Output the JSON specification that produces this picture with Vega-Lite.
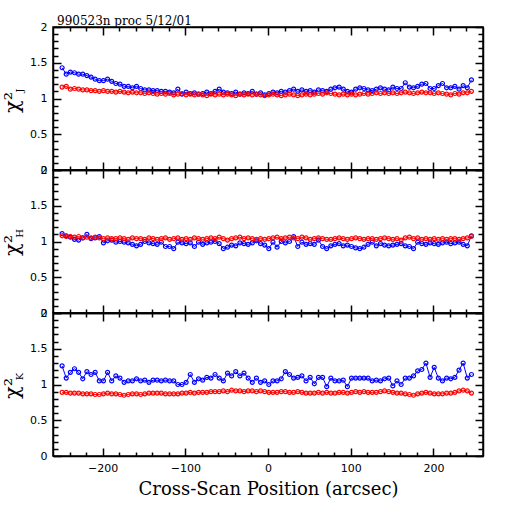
{
  "$schema": "https://vega.github.io/schema/vega-lite/v6.json",
  "datasets": {
    "Jb": [
      {"x":-249,"y":1.43},{"x":-244,"y":1.34},{"x":-239,"y":1.37},{"x":-234,"y":1.36},{"x":-229,"y":1.34},{"x":-224,"y":1.34},{"x":-219,"y":1.32},{"x":-214,"y":1.30},{"x":-209,"y":1.27},{"x":-204,"y":1.25},
      {"x":-199,"y":1.25},{"x":-194,"y":1.27},{"x":-189,"y":1.24},{"x":-184,"y":1.21},{"x":-179,"y":1.20},{"x":-174,"y":1.17},{"x":-169,"y":1.17},{"x":-164,"y":1.15},{"x":-159,"y":1.17},{"x":-154,"y":1.14},
      {"x":-149,"y":1.12},{"x":-144,"y":1.12},{"x":-139,"y":1.11},{"x":-134,"y":1.11},{"x":-129,"y":1.10},{"x":-124,"y":1.10},{"x":-119,"y":1.09},{"x":-114,"y":1.08},{"x":-109,"y":1.13},{"x":-104,"y":1.06},
      {"x":-99,"y":1.09},{"x":-94,"y":1.07},{"x":-89,"y":1.08},{"x":-84,"y":1.06},{"x":-79,"y":1.07},{"x":-74,"y":1.09},{"x":-69,"y":1.07},{"x":-64,"y":1.10},{"x":-59,"y":1.13},{"x":-54,"y":1.09},
      {"x":-49,"y":1.08},{"x":-44,"y":1.07},{"x":-39,"y":1.09},{"x":-34,"y":1.06},{"x":-29,"y":1.08},{"x":-24,"y":1.07},{"x":-19,"y":1.10},{"x":-14,"y":1.06},{"x":-9,"y":1.08},{"x":-4,"y":1.05},
      {"x":1,"y":1.07},{"x":6,"y":1.09},{"x":11,"y":1.08},{"x":16,"y":1.10},{"x":21,"y":1.09},{"x":26,"y":1.11},{"x":31,"y":1.13},{"x":36,"y":1.10},{"x":41,"y":1.12},{"x":46,"y":1.10},
      {"x":51,"y":1.11},{"x":56,"y":1.09},{"x":61,"y":1.12},{"x":66,"y":1.11},{"x":71,"y":1.10},{"x":76,"y":1.13},{"x":81,"y":1.15},{"x":86,"y":1.16},{"x":91,"y":1.13},{"x":96,"y":1.10},
      {"x":101,"y":1.09},{"x":106,"y":1.13},{"x":111,"y":1.15},{"x":116,"y":1.14},{"x":121,"y":1.12},{"x":126,"y":1.11},{"x":131,"y":1.13},{"x":136,"y":1.15},{"x":141,"y":1.13},{"x":146,"y":1.12},
      {"x":151,"y":1.16},{"x":156,"y":1.14},{"x":161,"y":1.14},{"x":166,"y":1.22},{"x":171,"y":1.16},{"x":176,"y":1.15},{"x":181,"y":1.17},{"x":186,"y":1.20},{"x":191,"y":1.21},{"x":196,"y":1.14},
      {"x":201,"y":1.14},{"x":206,"y":1.18},{"x":211,"y":1.21},{"x":216,"y":1.15},{"x":221,"y":1.15},{"x":226,"y":1.17},{"x":231,"y":1.13},{"x":236,"y":1.18},{"x":241,"y":1.15},{"x":246,"y":1.26}
    ],
    "Jr": [
      {"x":-249,"y":1.16},{"x":-244,"y":1.17},{"x":-239,"y":1.13},{"x":-234,"y":1.14},{"x":-229,"y":1.13},{"x":-224,"y":1.12},{"x":-219,"y":1.12},{"x":-214,"y":1.11},{"x":-209,"y":1.11},{"x":-204,"y":1.10},
      {"x":-199,"y":1.11},{"x":-194,"y":1.10},{"x":-189,"y":1.10},{"x":-184,"y":1.09},{"x":-179,"y":1.10},{"x":-174,"y":1.09},{"x":-169,"y":1.08},{"x":-164,"y":1.09},{"x":-159,"y":1.08},{"x":-154,"y":1.08},
      {"x":-149,"y":1.07},{"x":-144,"y":1.08},{"x":-139,"y":1.07},{"x":-134,"y":1.06},{"x":-129,"y":1.07},{"x":-124,"y":1.06},{"x":-119,"y":1.07},{"x":-114,"y":1.05},{"x":-109,"y":1.06},{"x":-104,"y":1.07},
      {"x":-99,"y":1.05},{"x":-94,"y":1.06},{"x":-89,"y":1.05},{"x":-84,"y":1.06},{"x":-79,"y":1.05},{"x":-74,"y":1.04},{"x":-69,"y":1.06},{"x":-64,"y":1.05},{"x":-59,"y":1.06},{"x":-54,"y":1.05},
      {"x":-49,"y":1.06},{"x":-44,"y":1.05},{"x":-39,"y":1.04},{"x":-34,"y":1.06},{"x":-29,"y":1.05},{"x":-24,"y":1.06},{"x":-19,"y":1.05},{"x":-14,"y":1.06},{"x":-9,"y":1.05},{"x":-4,"y":1.04},
      {"x":1,"y":1.05},{"x":6,"y":1.06},{"x":11,"y":1.05},{"x":16,"y":1.04},{"x":21,"y":1.05},{"x":26,"y":1.06},{"x":31,"y":1.05},{"x":36,"y":1.04},{"x":41,"y":1.05},{"x":46,"y":1.06},
      {"x":51,"y":1.05},{"x":56,"y":1.06},{"x":61,"y":1.07},{"x":66,"y":1.06},{"x":71,"y":1.08},{"x":76,"y":1.07},{"x":81,"y":1.06},{"x":86,"y":1.05},{"x":91,"y":1.06},{"x":96,"y":1.05},
      {"x":101,"y":1.06},{"x":106,"y":1.05},{"x":111,"y":1.06},{"x":116,"y":1.07},{"x":121,"y":1.06},{"x":126,"y":1.07},{"x":131,"y":1.08},{"x":136,"y":1.07},{"x":141,"y":1.08},{"x":146,"y":1.07},
      {"x":151,"y":1.08},{"x":156,"y":1.07},{"x":161,"y":1.08},{"x":166,"y":1.09},{"x":171,"y":1.08},{"x":176,"y":1.07},{"x":181,"y":1.08},{"x":186,"y":1.09},{"x":191,"y":1.08},{"x":196,"y":1.08},
      {"x":201,"y":1.07},{"x":206,"y":1.08},{"x":211,"y":1.07},{"x":216,"y":1.06},{"x":221,"y":1.05},{"x":226,"y":1.07},{"x":231,"y":1.06},{"x":236,"y":1.08},{"x":241,"y":1.08},{"x":246,"y":1.10}
    ],
    "Hb": [
      {"x":-249,"y":1.11},{"x":-244,"y":1.08},{"x":-239,"y":1.06},{"x":-234,"y":1.03},{"x":-229,"y":1.02},{"x":-224,"y":1.05},{"x":-219,"y":1.10},{"x":-214,"y":1.04},{"x":-209,"y":1.05},{"x":-204,"y":1.07},
      {"x":-199,"y":0.98},{"x":-194,"y":1.01},{"x":-189,"y":1.02},{"x":-184,"y":0.99},{"x":-179,"y":1.00},{"x":-174,"y":0.99},{"x":-169,"y":0.98},{"x":-164,"y":0.96},{"x":-159,"y":0.94},{"x":-154,"y":0.96},
      {"x":-149,"y":1.00},{"x":-144,"y":0.98},{"x":-139,"y":0.97},{"x":-134,"y":0.96},{"x":-129,"y":0.99},{"x":-124,"y":0.93},{"x":-119,"y":0.93},{"x":-114,"y":0.90},{"x":-109,"y":0.99},{"x":-104,"y":0.98},
      {"x":-99,"y":0.97},{"x":-94,"y":0.98},{"x":-89,"y":0.93},{"x":-84,"y":0.99},{"x":-79,"y":0.96},{"x":-74,"y":0.98},{"x":-69,"y":0.99},{"x":-64,"y":1.00},{"x":-59,"y":0.97},{"x":-54,"y":0.90},
      {"x":-49,"y":0.92},{"x":-44,"y":0.95},{"x":-39,"y":0.94},{"x":-34,"y":0.98},{"x":-29,"y":0.97},{"x":-24,"y":0.96},{"x":-19,"y":0.98},{"x":-14,"y":1.01},{"x":-9,"y":0.97},{"x":-4,"y":0.95},
      {"x":1,"y":0.90},{"x":6,"y":0.99},{"x":11,"y":0.92},{"x":16,"y":1.00},{"x":21,"y":0.98},{"x":26,"y":1.00},{"x":31,"y":1.07},{"x":36,"y":0.93},{"x":41,"y":0.99},{"x":46,"y":0.96},
      {"x":51,"y":0.97},{"x":56,"y":0.96},{"x":61,"y":1.02},{"x":66,"y":0.93},{"x":71,"y":0.90},{"x":76,"y":0.94},{"x":81,"y":0.96},{"x":86,"y":0.97},{"x":91,"y":0.94},{"x":96,"y":0.95},
      {"x":101,"y":0.93},{"x":106,"y":0.91},{"x":111,"y":0.90},{"x":116,"y":0.92},{"x":121,"y":0.96},{"x":126,"y":0.99},{"x":131,"y":0.94},{"x":136,"y":0.97},{"x":141,"y":0.95},{"x":146,"y":0.94},
      {"x":151,"y":0.95},{"x":156,"y":0.96},{"x":161,"y":0.97},{"x":166,"y":0.94},{"x":171,"y":0.93},{"x":176,"y":0.90},{"x":181,"y":0.99},{"x":186,"y":0.97},{"x":191,"y":0.96},{"x":196,"y":0.98},
      {"x":201,"y":0.97},{"x":206,"y":0.96},{"x":211,"y":0.98},{"x":216,"y":0.99},{"x":221,"y":0.97},{"x":226,"y":0.98},{"x":231,"y":0.99},{"x":236,"y":0.96},{"x":241,"y":0.94},{"x":246,"y":1.08}
    ],
    "Hr": [
      {"x":-249,"y":1.08},{"x":-244,"y":1.07},{"x":-239,"y":1.07},{"x":-234,"y":1.06},{"x":-229,"y":1.07},{"x":-224,"y":1.05},{"x":-219,"y":1.06},{"x":-214,"y":1.05},{"x":-209,"y":1.06},{"x":-204,"y":1.05},
      {"x":-199,"y":1.04},{"x":-194,"y":1.05},{"x":-189,"y":1.04},{"x":-184,"y":1.04},{"x":-179,"y":1.05},{"x":-174,"y":1.04},{"x":-169,"y":1.03},{"x":-164,"y":1.05},{"x":-159,"y":1.04},{"x":-154,"y":1.04},
      {"x":-149,"y":1.03},{"x":-144,"y":1.05},{"x":-139,"y":1.04},{"x":-134,"y":1.03},{"x":-129,"y":1.04},{"x":-124,"y":1.05},{"x":-119,"y":1.03},{"x":-114,"y":1.04},{"x":-109,"y":1.05},{"x":-104,"y":1.03},
      {"x":-99,"y":1.04},{"x":-94,"y":1.03},{"x":-89,"y":1.05},{"x":-84,"y":1.04},{"x":-79,"y":1.03},{"x":-74,"y":1.04},{"x":-69,"y":1.05},{"x":-64,"y":1.04},{"x":-59,"y":1.06},{"x":-54,"y":1.04},
      {"x":-49,"y":1.02},{"x":-44,"y":1.04},{"x":-39,"y":1.05},{"x":-34,"y":1.06},{"x":-29,"y":1.04},{"x":-24,"y":1.05},{"x":-19,"y":1.04},{"x":-14,"y":1.03},{"x":-9,"y":1.04},{"x":-4,"y":1.03},
      {"x":1,"y":1.04},{"x":6,"y":1.05},{"x":11,"y":1.06},{"x":16,"y":1.04},{"x":21,"y":1.05},{"x":26,"y":1.06},{"x":31,"y":1.05},{"x":36,"y":1.04},{"x":41,"y":1.06},{"x":46,"y":1.05},
      {"x":51,"y":1.03},{"x":56,"y":1.04},{"x":61,"y":1.05},{"x":66,"y":1.04},{"x":71,"y":1.03},{"x":76,"y":1.03},{"x":81,"y":1.04},{"x":86,"y":1.05},{"x":91,"y":1.04},{"x":96,"y":1.03},
      {"x":101,"y":1.04},{"x":106,"y":1.05},{"x":111,"y":1.04},{"x":116,"y":1.03},{"x":121,"y":1.04},{"x":126,"y":1.04},{"x":131,"y":1.03},{"x":136,"y":1.04},{"x":141,"y":1.05},{"x":146,"y":1.04},
      {"x":151,"y":1.03},{"x":156,"y":1.04},{"x":161,"y":1.02},{"x":166,"y":1.05},{"x":171,"y":1.06},{"x":176,"y":1.04},{"x":181,"y":1.05},{"x":186,"y":1.03},{"x":191,"y":1.04},{"x":196,"y":1.03},
      {"x":201,"y":1.04},{"x":206,"y":1.03},{"x":211,"y":1.04},{"x":216,"y":1.03},{"x":221,"y":1.04},{"x":226,"y":1.04},{"x":231,"y":1.03},{"x":236,"y":1.04},{"x":241,"y":1.05},{"x":246,"y":1.07}
    ],
    "Kb": [
      {"x":-249,"y":1.26},{"x":-244,"y":1.09},{"x":-239,"y":1.17},{"x":-234,"y":1.22},{"x":-229,"y":1.17},{"x":-224,"y":1.08},{"x":-219,"y":1.18},{"x":-214,"y":1.14},{"x":-209,"y":1.17},{"x":-204,"y":1.05},
      {"x":-199,"y":1.05},{"x":-194,"y":1.17},{"x":-189,"y":1.05},{"x":-184,"y":1.12},{"x":-179,"y":1.09},{"x":-174,"y":1.03},{"x":-169,"y":1.05},{"x":-164,"y":1.05},{"x":-159,"y":1.08},{"x":-154,"y":1.05},
      {"x":-149,"y":1.06},{"x":-144,"y":1.03},{"x":-139,"y":1.06},{"x":-134,"y":1.06},{"x":-129,"y":1.05},{"x":-124,"y":1.06},{"x":-119,"y":1.05},{"x":-114,"y":1.05},{"x":-109,"y":1.00},{"x":-104,"y":1.00},
      {"x":-99,"y":1.03},{"x":-94,"y":1.14},{"x":-89,"y":1.03},{"x":-84,"y":1.08},{"x":-79,"y":1.06},{"x":-74,"y":1.10},{"x":-69,"y":1.09},{"x":-64,"y":1.14},{"x":-59,"y":1.09},{"x":-54,"y":1.05},
      {"x":-49,"y":1.16},{"x":-44,"y":1.12},{"x":-39,"y":1.18},{"x":-34,"y":1.12},{"x":-29,"y":1.16},{"x":-24,"y":1.09},{"x":-19,"y":1.03},{"x":-14,"y":1.09},{"x":-9,"y":1.03},{"x":-4,"y":1.05},
      {"x":1,"y":1.00},{"x":6,"y":1.05},{"x":11,"y":1.05},{"x":16,"y":1.08},{"x":21,"y":1.18},{"x":26,"y":1.14},{"x":31,"y":1.09},{"x":36,"y":1.10},{"x":41,"y":1.12},{"x":46,"y":1.05},
      {"x":51,"y":1.10},{"x":56,"y":1.01},{"x":61,"y":1.10},{"x":66,"y":1.10},{"x":71,"y":0.97},{"x":76,"y":1.09},{"x":81,"y":1.05},{"x":86,"y":1.05},{"x":91,"y":1.06},{"x":96,"y":0.97},
      {"x":101,"y":1.09},{"x":106,"y":1.09},{"x":111,"y":1.09},{"x":116,"y":1.09},{"x":121,"y":1.09},{"x":126,"y":1.05},{"x":131,"y":1.06},{"x":136,"y":1.05},{"x":141,"y":1.08},{"x":146,"y":1.09},
      {"x":151,"y":0.98},{"x":156,"y":1.05},{"x":161,"y":1.00},{"x":166,"y":1.09},{"x":171,"y":1.09},{"x":176,"y":1.12},{"x":181,"y":1.19},{"x":186,"y":1.21},{"x":191,"y":1.30},{"x":196,"y":1.10},
      {"x":201,"y":1.24},{"x":206,"y":1.09},{"x":211,"y":1.05},{"x":216,"y":1.09},{"x":221,"y":1.08},{"x":226,"y":1.10},{"x":231,"y":1.20},{"x":236,"y":1.30},{"x":241,"y":1.09},{"x":246,"y":1.14}
    ],
    "Kr": [
      {"x":-249,"y":0.89},{"x":-244,"y":0.89},{"x":-239,"y":0.88},{"x":-234,"y":0.88},{"x":-229,"y":0.88},{"x":-224,"y":0.87},{"x":-219,"y":0.87},{"x":-214,"y":0.87},{"x":-209,"y":0.86},{"x":-204,"y":0.86},
      {"x":-199,"y":0.87},{"x":-194,"y":0.88},{"x":-189,"y":0.87},{"x":-184,"y":0.87},{"x":-179,"y":0.86},{"x":-174,"y":0.85},{"x":-169,"y":0.86},{"x":-164,"y":0.87},{"x":-159,"y":0.87},{"x":-154,"y":0.86},
      {"x":-149,"y":0.87},{"x":-144,"y":0.88},{"x":-139,"y":0.88},{"x":-134,"y":0.88},{"x":-129,"y":0.88},{"x":-124,"y":0.87},{"x":-119,"y":0.87},{"x":-114,"y":0.87},{"x":-109,"y":0.87},{"x":-104,"y":0.88},
      {"x":-99,"y":0.88},{"x":-94,"y":0.89},{"x":-89,"y":0.88},{"x":-84,"y":0.89},{"x":-79,"y":0.89},{"x":-74,"y":0.89},{"x":-69,"y":0.90},{"x":-64,"y":0.90},{"x":-59,"y":0.90},{"x":-54,"y":0.91},
      {"x":-49,"y":0.90},{"x":-44,"y":0.92},{"x":-39,"y":0.91},{"x":-34,"y":0.91},{"x":-29,"y":0.90},{"x":-24,"y":0.91},{"x":-19,"y":0.91},{"x":-14,"y":0.90},{"x":-9,"y":0.91},{"x":-4,"y":0.90},
      {"x":1,"y":0.89},{"x":6,"y":0.89},{"x":11,"y":0.89},{"x":16,"y":0.90},{"x":21,"y":0.90},{"x":26,"y":0.89},{"x":31,"y":0.89},{"x":36,"y":0.90},{"x":41,"y":0.89},{"x":46,"y":0.88},
      {"x":51,"y":0.88},{"x":56,"y":0.88},{"x":61,"y":0.89},{"x":66,"y":0.88},{"x":71,"y":0.89},{"x":76,"y":0.88},{"x":81,"y":0.88},{"x":86,"y":0.89},{"x":91,"y":0.89},{"x":96,"y":0.88},
      {"x":101,"y":0.89},{"x":106,"y":0.90},{"x":111,"y":0.89},{"x":116,"y":0.90},{"x":121,"y":0.89},{"x":126,"y":0.89},{"x":131,"y":0.89},{"x":136,"y":0.90},{"x":141,"y":0.91},{"x":146,"y":0.90},
      {"x":151,"y":0.89},{"x":156,"y":0.88},{"x":161,"y":0.88},{"x":166,"y":0.87},{"x":171,"y":0.86},{"x":176,"y":0.85},{"x":181,"y":0.87},{"x":186,"y":0.88},{"x":191,"y":0.89},{"x":196,"y":0.88},
      {"x":201,"y":0.87},{"x":206,"y":0.87},{"x":211,"y":0.87},{"x":216,"y":0.88},{"x":221,"y":0.88},{"x":226,"y":0.89},{"x":231,"y":0.91},{"x":236,"y":0.92},{"x":241,"y":0.91},{"x":246,"y":0.88}
    ]
  },
  "spacing": 0,
  "bounds": "flush",
  "vconcat": [
    {
      "width": 430,
      "height": 143,
      "title": {"text": "990523n proc 5/12/01", "anchor": "start", "frame": "group", "font": "DejaVu Serif", "fontSize": 12, "fontWeight": "normal", "offset": 1, "dx": 4, "dy": 8},
      "layer": [
        {
          "data": {"name": "Jb"},
          "encoding": {
            "x": {"field": "x", "type": "quantitative", "scale": {"domain": [-260, 260], "nice": false, "zero": false},
              "axis": {"orient": "bottom", "values": [-240,-220,-200,-180,-160,-140,-120,-100,-80,-60,-40,-20,0,20,40,60,80,100,120,140,160,180,200,220,240], "labels": false, "title": null,
                "tickSize": {"condition": {"test": "datum.value % 100 === 0", "value": -8}, "value": -4}}},
            "y": {"field": "y", "type": "quantitative", "scale": {"domain": [0, 2], "nice": false},
              "axis": {"orient": "left", "values": [0,0.1,0.2,0.3,0.4,0.5,0.6,0.7,0.8,0.9,1,1.1,1.2,1.3,1.4,1.5,1.6,1.7,1.8,1.9,2],
                "labelExpr": "datum.value % 0.5 === 0 ? format(datum.value, '~g') : ''",
                "tickSize": {"condition": {"test": "datum.value % 0.5 === 0", "value": -8}, "value": -5},
                "labelPadding": 14, "title": "χ²", "titleAngle": -90, "titleX": -41, "titleY": 75, "titleAlign": "center", "titleBaseline": "middle", "titleFontSize": 21}}
          },
          "layer": [
            {"mark": {"type": "line", "color": "#0000ff", "strokeWidth": 1}, "encoding": {}},
            {"mark": {"type": "point", "shape": "circle", "filled": false, "color": "#0000ff", "size": 16, "strokeWidth": 1.2, "opacity": 1}}
          ]
        },
        {
          "data": {"name": "Jr"},
          "encoding": {
            "x": {"field": "x", "type": "quantitative", "scale": {"domain": [-260, 260], "nice": false, "zero": false},
              "axis": {"orient": "top", "values": [-240,-220,-200,-180,-160,-140,-120,-100,-80,-60,-40,-20,0,20,40,60,80,100,120,140,160,180,200,220,240], "labels": false,
                "tickSize": {"condition": {"test": "datum.value % 100 === 0", "value": -8}, "value": -4},
                "title": "J", "titleAngle": -90, "titleX": -34, "titleY": 63, "titleAlign": "center", "titleBaseline": "middle", "titleFontSize": 10}},
            "y": {"field": "y", "type": "quantitative", "scale": {"domain": [0, 2], "nice": false},
              "axis": {"orient": "right", "values": [0,0.1,0.2,0.3,0.4,0.5,0.6,0.7,0.8,0.9,1,1.1,1.2,1.3,1.4,1.5,1.6,1.7,1.8,1.9,2], "labels": false, "title": null,
                "tickSize": {"condition": {"test": "datum.value % 0.5 === 0", "value": -8}, "value": -5}}}
          },
          "layer": [
            {"mark": {"type": "line", "color": "#ff0000", "strokeWidth": 1}, "encoding": {}},
            {"mark": {"type": "point", "shape": "circle", "filled": false, "color": "#ff0000", "size": 16, "strokeWidth": 1.2, "opacity": 1}}
          ]
        }
      ],
      "resolve": {"axis": {"x": "independent", "y": "independent"}}
    },
    {
      "width": 430,
      "height": 143,
      "layer": [
        {
          "data": {"name": "Hb"},
          "encoding": {
            "x": {"field": "x", "type": "quantitative", "scale": {"domain": [-260, 260], "nice": false, "zero": false},
              "axis": {"orient": "bottom", "values": [-240,-220,-200,-180,-160,-140,-120,-100,-80,-60,-40,-20,0,20,40,60,80,100,120,140,160,180,200,220,240], "labels": false, "title": null,
                "tickSize": {"condition": {"test": "datum.value % 100 === 0", "value": -8}, "value": -4}}},
            "y": {"field": "y", "type": "quantitative", "scale": {"domain": [0, 2], "nice": false},
              "axis": {"orient": "left", "values": [0,0.1,0.2,0.3,0.4,0.5,0.6,0.7,0.8,0.9,1,1.1,1.2,1.3,1.4,1.5,1.6,1.7,1.8,1.9,2],
                "labelExpr": "datum.value % 0.5 === 0 ? format(datum.value, '~g') : ''",
                "tickSize": {"condition": {"test": "datum.value % 0.5 === 0", "value": -8}, "value": -5},
                "labelPadding": 14, "title": "χ²", "titleAngle": -90, "titleX": -41, "titleY": 75, "titleAlign": "center", "titleBaseline": "middle", "titleFontSize": 21}}
          },
          "layer": [
            {"mark": {"type": "line", "color": "#0000ff", "strokeWidth": 1}, "encoding": {}},
            {"mark": {"type": "point", "shape": "circle", "filled": false, "color": "#0000ff", "size": 16, "strokeWidth": 1.2, "opacity": 1}}
          ]
        },
        {
          "data": {"name": "Hr"},
          "encoding": {
            "x": {"field": "x", "type": "quantitative", "scale": {"domain": [-260, 260], "nice": false, "zero": false},
              "axis": {"orient": "top", "values": [-240,-220,-200,-180,-160,-140,-120,-100,-80,-60,-40,-20,0,20,40,60,80,100,120,140,160,180,200,220,240], "labels": false,
                "tickSize": {"condition": {"test": "datum.value % 100 === 0", "value": -8}, "value": -4},
                "title": "H", "titleAngle": -90, "titleX": -34, "titleY": 63, "titleAlign": "center", "titleBaseline": "middle", "titleFontSize": 10}},
            "y": {"field": "y", "type": "quantitative", "scale": {"domain": [0, 2], "nice": false},
              "axis": {"orient": "right", "values": [0,0.1,0.2,0.3,0.4,0.5,0.6,0.7,0.8,0.9,1,1.1,1.2,1.3,1.4,1.5,1.6,1.7,1.8,1.9,2], "labels": false, "title": null,
                "tickSize": {"condition": {"test": "datum.value % 0.5 === 0", "value": -8}, "value": -5}}}
          },
          "layer": [
            {"mark": {"type": "line", "color": "#ff0000", "strokeWidth": 1}, "encoding": {}},
            {"mark": {"type": "point", "shape": "circle", "filled": false, "color": "#ff0000", "size": 16, "strokeWidth": 1.2, "opacity": 1}}
          ]
        }
      ],
      "resolve": {"axis": {"x": "independent", "y": "independent"}}
    },
    {
      "width": 430,
      "height": 143,
      "layer": [
        {
          "data": {"name": "Kb"},
          "encoding": {
            "x": {"field": "x", "type": "quantitative", "scale": {"domain": [-260, 260], "nice": false, "zero": false},
              "axis": {"orient": "bottom", "values": [-240,-220,-200,-180,-160,-140,-120,-100,-80,-60,-40,-20,0,20,40,60,80,100,120,140,160,180,200,220,240],
                "labelExpr": "datum.value % 100 === 0 ? datum.label : ''", "labelPadding": 14, "labelFlush": false,
                "title": "Cross-Scan Position (arcsec)", "titleFontSize": 18, "titlePadding": 3,
                "tickSize": {"condition": {"test": "datum.value % 100 === 0", "value": -8}, "value": -4}}},
            "y": {"field": "y", "type": "quantitative", "scale": {"domain": [0, 2], "nice": false},
              "axis": {"orient": "left", "values": [0,0.1,0.2,0.3,0.4,0.5,0.6,0.7,0.8,0.9,1,1.1,1.2,1.3,1.4,1.5,1.6,1.7,1.8,1.9,2],
                "labelExpr": "datum.value % 0.5 === 0 ? format(datum.value, '~g') : ''",
                "tickSize": {"condition": {"test": "datum.value % 0.5 === 0", "value": -8}, "value": -5},
                "labelPadding": 14, "title": "χ²", "titleAngle": -90, "titleX": -41, "titleY": 75, "titleAlign": "center", "titleBaseline": "middle", "titleFontSize": 21}}
          },
          "layer": [
            {"mark": {"type": "line", "color": "#0000ff", "strokeWidth": 1}, "encoding": {}},
            {"mark": {"type": "point", "shape": "circle", "filled": false, "color": "#0000ff", "size": 16, "strokeWidth": 1.2, "opacity": 1}}
          ]
        },
        {
          "data": {"name": "Kr"},
          "encoding": {
            "x": {"field": "x", "type": "quantitative", "scale": {"domain": [-260, 260], "nice": false, "zero": false},
              "axis": {"orient": "top", "values": [-240,-220,-200,-180,-160,-140,-120,-100,-80,-60,-40,-20,0,20,40,60,80,100,120,140,160,180,200,220,240], "labels": false,
                "tickSize": {"condition": {"test": "datum.value % 100 === 0", "value": -8}, "value": -4},
                "title": "K", "titleAngle": -90, "titleX": -34, "titleY": 63, "titleAlign": "center", "titleBaseline": "middle", "titleFontSize": 10}},
            "y": {"field": "y", "type": "quantitative", "scale": {"domain": [0, 2], "nice": false},
              "axis": {"orient": "right", "values": [0,0.1,0.2,0.3,0.4,0.5,0.6,0.7,0.8,0.9,1,1.1,1.2,1.3,1.4,1.5,1.6,1.7,1.8,1.9,2], "labels": false, "title": null,
                "tickSize": {"condition": {"test": "datum.value % 0.5 === 0", "value": -8}, "value": -5}}}
          },
          "layer": [
            {"mark": {"type": "line", "color": "#ff0000", "strokeWidth": 1}, "encoding": {}},
            {"mark": {"type": "point", "shape": "circle", "filled": false, "color": "#ff0000", "size": 16, "strokeWidth": 1.2, "opacity": 1}}
          ]
        }
      ],
      "resolve": {"axis": {"x": "independent", "y": "independent"}}
    }
  ],
  "config": {
    "padding": {"left": 0, "top": 14, "right": 5, "bottom": 5},
    "font": "DejaVu Sans",
    "view": {"stroke": "black", "strokeWidth": 1.5},
    "axis": {
      "grid": false,
      "domainColor": "black",
      "domainWidth": 1.5,
      "tickColor": "black",
      "tickWidth": 1.5,
      "labelColor": "black",
      "labelFont": "DejaVu Sans",
      "labelFontSize": 11,
      "labelOverlap": false,
      "titleColor": "black",
      "titleFont": "DejaVu Serif",
      "titleFontWeight": "normal"
    }
  }
}
